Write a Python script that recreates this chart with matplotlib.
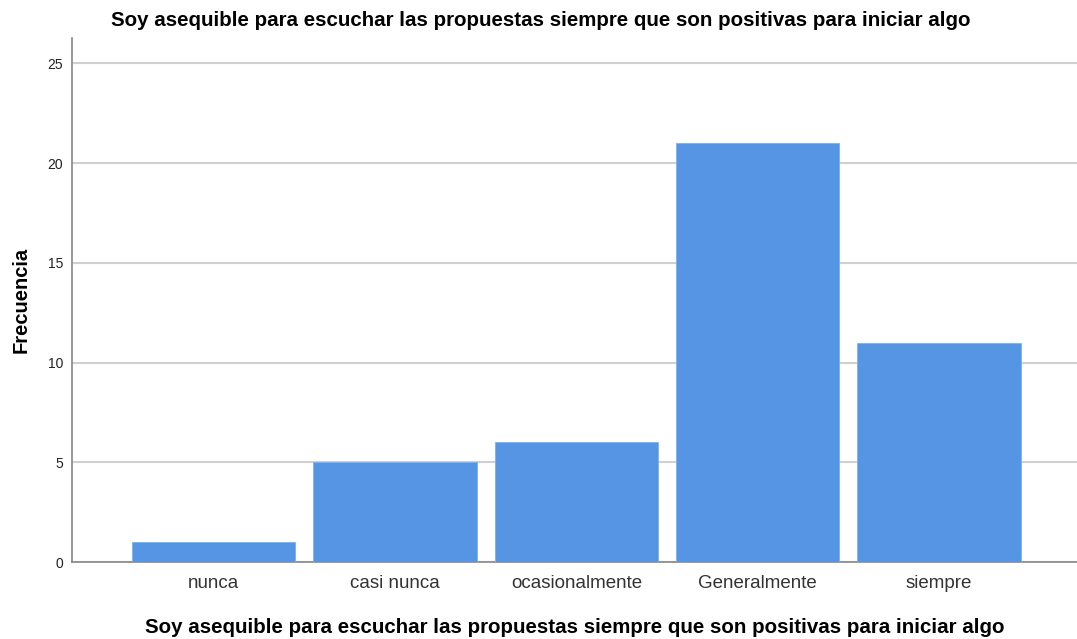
import matplotlib
matplotlib.use("Agg")
import matplotlib.pyplot as plt

categories = ["nunca", "casi nunca", "ocasionalmente", "Generalmente", "siempre"]
values = [1, 5, 6, 21, 11]
yticks = [0, 5, 10, 15, 20, 25]
title = "Soy asequible para escuchar las propuestas siempre que son positivas para iniciar algo"

plt.rcParams['font.family'] = ['Liberation Sans', 'DejaVu Sans']

fig = plt.figure(figsize=(10.77, 6.39), dpi=100)
ax = fig.add_axes([72/1077, 1-562/639, 1-72/1077, (562-38)/639])

x = list(range(len(categories)))
ax.bar(x, values, width=0.9, color="#5595e4", edgecolor="#7fb0ec", linewidth=0.6, zorder=3)

ax.set_xlim(-0.78, 4.76)
ax.set_ylim(0, 26.27)
ax.set_yticks(yticks)
ax.set_yticklabels([str(t) for t in yticks], fontsize=10, color="#222222")
ax.set_xticks(x)
ax.set_xticklabels(categories, fontsize=13.5, color="#333333")
ax.tick_params(axis='y', length=0, pad=6.5)
ax.tick_params(axis='x', length=0, pad=9)
ax.grid(axis='y', color="#d0d0d0", linewidth=1.5, zorder=0)
for s in ['top', 'right']:
    ax.spines[s].set_visible(False)
for s in ['left', 'bottom']:
    ax.spines[s].set_color("#888888")
    ax.spines[s].set_linewidth(1.2)

ax.set_ylabel("Frecuencia", fontsize=14.5, fontweight='bold', labelpad=12)
ax.set_xlabel(title, fontsize=14.8, fontweight='bold', labelpad=19)
fig.text(0.502, 1-20/639, title, fontsize=14.8, fontweight='bold', ha='center', va='center')

fig.savefig("out.png", dpi=100)
